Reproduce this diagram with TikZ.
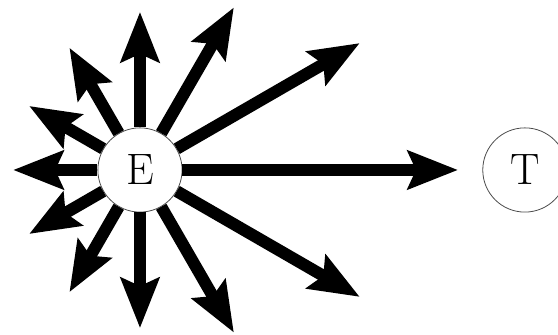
\documentclass[tikz,border=0pt]{standalone}
\usepackage{tikz}
\usetikzlibrary{arrows.meta, positioning}
\tikzset{
  charge/.style = {circle, draw=black!70, thin, fill=white, minimum size=1.48cm,
                   inner sep=0pt, font=\fontsize{22}{26}\selectfont},
  field/.style  = {line width=6pt, -{Stealth[length=25pt, width=19pt, inset=4pt]}},
}

\begin{document}
\begin{tikzpicture}

    \useasboundingbox (-2.46, -2.90) rectangle (7.346, 2.987);

    % field lines, angle/length
    \foreach \a/\l in {0/5.59, 30/4.46, 60/3.30, 90/2.78, 120/2.48, 150/2.25,
                       180/2.23, 210/2.25, 240/2.48, 270/2.78, 300/3.30, 330/4.46}
      \coordinate (tip\a) at (\a:\l);

    \node[charge] (E) at (0, 0) {E};
    \node[charge, right=5.27cm of E] (T) {T};

    \foreach \a in {0, 30, 60, 90, 120, 150, 180, 210, 240, 270, 300, 330}
      \draw[field] (E.\a) -- (tip\a);

  \end{tikzpicture}
\end{document}
